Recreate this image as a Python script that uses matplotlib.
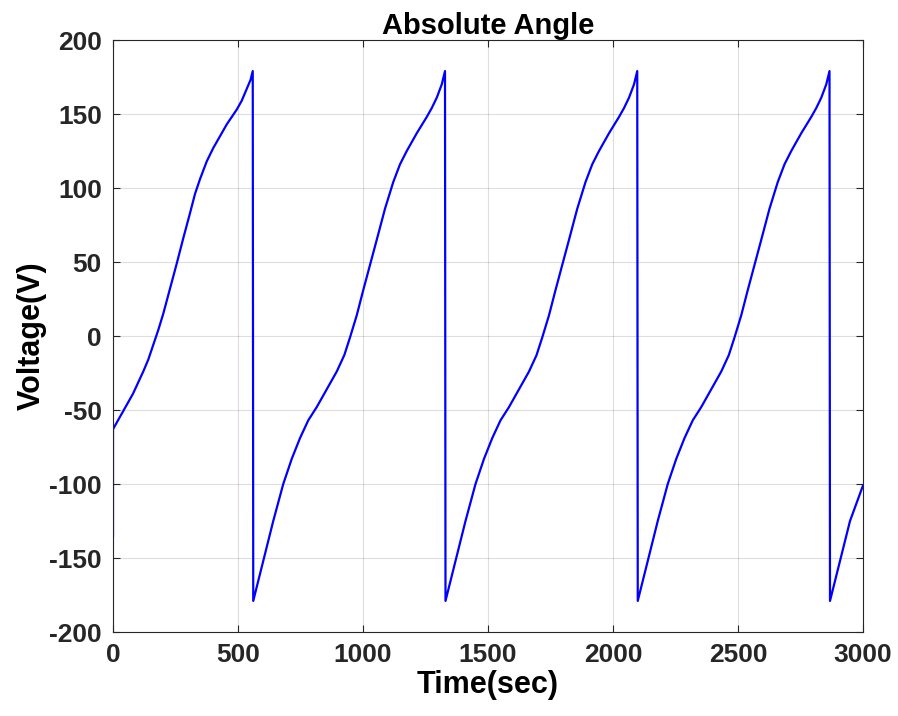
import matplotlib
matplotlib.use('Agg')
import matplotlib.pyplot as plt

# Time (sec) and angle values
time_s = [0, 0, 40, 80, 121, 141, 161, 181, 201, 228, 255, 281, 308, 328, 348,
          375, 401, 428, 455, 495, 515, 535, 550, 559,
          561, 601, 641, 681, 715, 748, 781, 815, 855, 895, 925, 948, 975, 1001,
          1028, 1055, 1088, 1121, 1148, 1175, 1215, 1255, 1275, 1295, 1315, 1328,
          1330, 1370, 1410, 1450, 1484, 1517, 1550, 1584, 1624, 1664, 1694,
          1717, 1744, 1770, 1797, 1824, 1857, 1890, 1917, 1944, 1984, 2024,
          2044, 2064, 2084, 2097,
          2099, 2139, 2179, 2219, 2253, 2286, 2319, 2353, 2393, 2433, 2463,
          2486, 2513, 2539, 2566, 2593, 2626, 2659, 2686, 2713, 2753, 2793,
          2813, 2833, 2853, 2866,
          2868, 2908, 2948, 3000]
angle_v = [-135, -63, -51, -39, -24, -16, -6, 4, 15, 32, 49, 66, 83, 96, 106,
           118, 127, 135, 143, 153, 159, 167, 173, 179,
           -179, -152, -125, -100, -83, -69, -57, -48, -36, -24, -13, -1, 14, 31,
           48, 65, 86, 104, 116, 125, 137, 148, 154, 161, 170, 179,
           -179, -152, -125, -100, -83, -69, -57, -48, -36, -24, -13,
           -1, 14, 31, 48, 65, 86, 104, 116, 125, 137, 148,
           154, 161, 170, 179,
           -179, -152, -125, -100, -83, -69, -57, -48, -36, -24, -13,
           -1, 14, 31, 48, 65, 86, 104, 116, 125, 137, 148,
           154, 161, 170, 179,
           -179, -152, -125, -101]

x_ticks = [0, 500, 1000, 1500, 2000, 2500, 3000]
y_ticks = [-200, -150, -100, -50, 0, 50, 100, 150, 200]

plt.rcParams['font.family'] = ['Liberation Sans', 'DejaVu Sans']
plt.rcParams['font.weight'] = 'bold'
plt.rcParams['axes.unicode_minus'] = False

fig = plt.figure(figsize=(8.98, 7.16), dpi=100)
ax = fig.add_axes([113/898, 1 - 632/716, 750/898, 592/716])

ax.plot(time_s, angle_v, color=(0, 0, 1), lw=1.6)

ax.set_xlim(0, 3000)
ax.set_ylim(-200, 200)
ax.set_xticks(x_ticks)
ax.set_yticks(y_ticks)
ax.grid(True, color='#262626', alpha=0.15, lw=0.8)
ax.tick_params(direction='in', top=True, right=True, labelsize=19,
               colors='#262626', length=5, width=0.8, pad=8)
for s in ax.spines.values():
    s.set_color('#262626')
    s.set_linewidth(0.8)

ax.set_xlabel('Time(sec)', fontsize=22, fontweight='bold', labelpad=2)
ax.set_ylabel('Voltage(V)', fontsize=22, fontweight='bold', labelpad=2)
ax.set_title('Absolute Angle', fontsize=21, fontweight='bold', pad=4)

fig.savefig('out.png', dpi=100)
